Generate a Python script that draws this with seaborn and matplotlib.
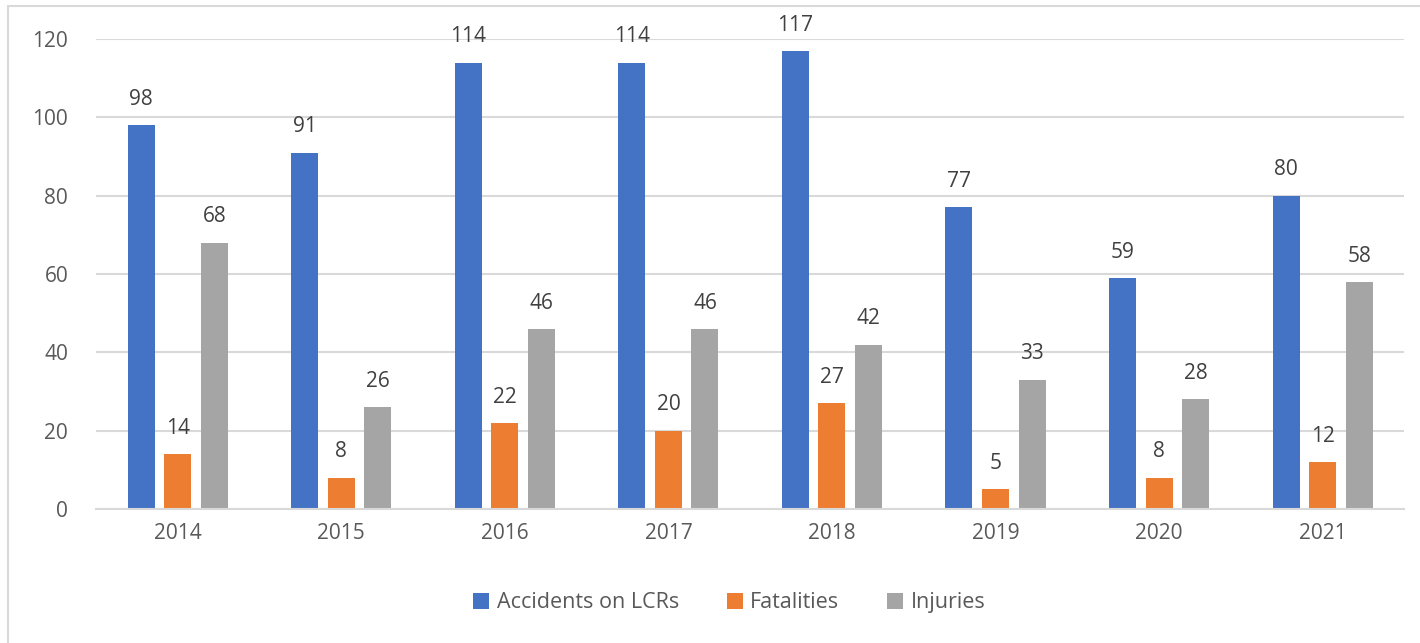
import pandas as pd
import seaborn as sns
import matplotlib.pyplot as plt
from matplotlib.patches import Rectangle

# Values
years = ["2014", "2015", "2016", "2017", "2018", "2019", "2020", "2021"]
accidents = [98, 91, 114, 114, 117, 77, 59, 80]
fatalities = [14, 8, 22, 20, 27, 5, 8, 12]
injuries = [68, 26, 46, 46, 42, 33, 28, 58]
seriesNames = ["Accidents on LCRs", "Fatalities", "Injuries"]
colours = ["#4472C4", "#ED7D31", "#A5A5A5"]

df = pd.DataFrame({"Year": years * 3,
                   "Value": accidents + fatalities + injuries,
                   "Series": [seriesNames[0]] * 8 + [seriesNames[1]] * 8 + [seriesNames[2]] * 8})

sns.set_style("white")
plt.rcParams['font.family'] = ['Open Sans', 'DejaVu Sans']

fig = plt.figure(figsize=(14.2, 6.43), dpi=100)
ax = fig.add_axes([0.0676, 0.2084, 0.9214, 0.7309])

sns.barplot(data=df, x="Year", y="Value", hue="Series", palette=colours,
            width=0.67, gap=0.26, saturation=1, linewidth=0, ax=ax, legend=True)

ax.set_ylim(0, 120)
ax.set_yticks(range(0, 121, 20))
ax.set_xlim(-0.5, 7.5)
ax.yaxis.grid(True, color="#D9D9D9", linewidth=1.5)
ax.set_axisbelow(True)
for s in ["top", "right", "left"]:
    ax.spines[s].set_visible(False)
ax.spines["bottom"].set_color("#D9D9D9")
ax.spines["bottom"].set_linewidth(1.5)
ax.tick_params(axis="both", length=0, labelsize=15, labelcolor="#595959")
ax.tick_params(axis="y", pad=20)
ax.tick_params(axis="x", pad=10)
ax.set_xlabel("")
ax.set_ylabel("")

for cont in ax.containers:
    ax.bar_label(cont, fmt="%d", padding=11, fontsize=15, color="#404040")

ax.legend(loc="center", bbox_to_anchor=(0.484, -0.2), ncol=3, frameon=False,
          fontsize=15.5, labelcolor="#595959", handlelength=0.75, handleheight=0.75,
          handletextpad=0.35, columnspacing=2.2)

# chart border
fig.patches.append(Rectangle((8 / 1420, -0.1), 1.2, 1 - 6 / 643 + 0.1,
                             transform=fig.transFigure, fill=False,
                             edgecolor="#D9D9D9", linewidth=1.5))

fig.savefig("out.png", dpi=100)
